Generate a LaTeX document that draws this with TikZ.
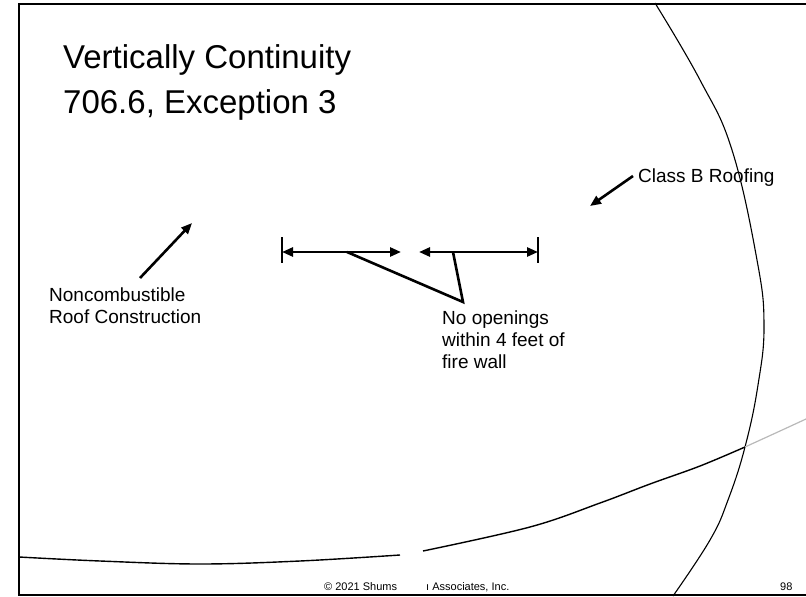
\documentclass[tikz,border=0pt]{standalone}
\usepackage{fontspec}
\setmainfont{Liberation Sans}
\usetikzlibrary{arrows.meta}
\begin{document}
\begin{tikzpicture}[x=1pt,y=-1pt,
  lbl/.style={font=\fontsize{19}{22}\selectfont, inner sep=0pt, align=left, anchor=base west},
  ttl/.style={font=\fontsize{33}{45}\selectfont, inner sep=0pt, align=left, anchor=base west},
  foot/.style={font=\fontsize{11}{13}\selectfont, inner sep=0pt, anchor=base west},
  ptr/.style={line width=2.6pt, -{Triangle[length=11pt,width=9pt]}},
  dim/.style={line width=2.6pt, {Triangle[length=11pt,width=9pt]}-{Triangle[length=11pt,width=9pt]}},
  tick/.style={line width=1.2pt},
  lead/.style={line width=2.6pt, line join=miter},
  frame/.style={line width=2pt},
  thin/.style={line width=1.1pt},
]
\useasboundingbox (0,0) rectangle (806,597);
% frame
\draw[frame] (806,4) -- (19,4) -- (19,595) -- (806,595);

% title (anchor is baseline of last line)
\node[ttl] (title) at (63,113) {Vertically Continuity\\706.6, Exception 3};

% labels
\node[lbl] (noncomb) at (49,323) {Noncombustible\\Roof Construction};
\node[lbl] (classb) at (638,182) {Class B Roofing};
\node[lbl] (noopen) at (442,368) {No openings\\within 4 feet of\\fire wall};

% footer
\node[foot] (copy1) at (324,590) {© 2021 Shums};
\node[foot] (copy2) at (426,590) {ı Associates, Inc.};
\node[foot] (page) at (780,590) {98};

% pointer arrows
\coordinate (nc0) at (140,278);
\coordinate (nc1) at (192,223);
\draw[ptr] (nc0) -- (nc1);
\coordinate (cb0) at (633,176);
\coordinate (cb1) at (590,206);
\draw[ptr] (cb0) -- (cb1);

% dimension arrows
\coordinate (dl0) at (282,252);
\coordinate (dl1) at (401,252);
\coordinate (dr0) at (419,252);
\coordinate (dr1) at (538,252);
\draw[tick] (282,237) -- (282,263);
\draw[tick] (538,237) -- (538,263);
\draw[dim] (dl0) -- (dl1);
\draw[dim] (dr0) -- (dr1);

% leader lines
\coordinate (la) at (347,252);
\coordinate (lb) at (463,302);
\coordinate (lc) at (453,252);
\draw[lead] (la) -- (lb) -- (lc);

% large arc
\draw[thin] plot[smooth, tension=0.7] coordinates {(655,3) (700,80) (732,150) (757,260) (764,325) (758,385) (745,447) (728,500) (710,540) (673,596)};

% lower curve
\draw[line width=1.4pt] plot[smooth, tension=0.6] coordinates {(19,557) (100,561) (200,564) (300,561) (400,555)};
\draw[line width=1.4pt] plot[smooth, tension=0.6] coordinates {(423,551) (530,527) (600,503) (650,484) (700,466) (745,447)};
\draw[line width=1.2pt, gray!55] plot[smooth, tension=0.6] coordinates {(745,447) (780,431) (806,419)};
\end{tikzpicture}
\end{document}
